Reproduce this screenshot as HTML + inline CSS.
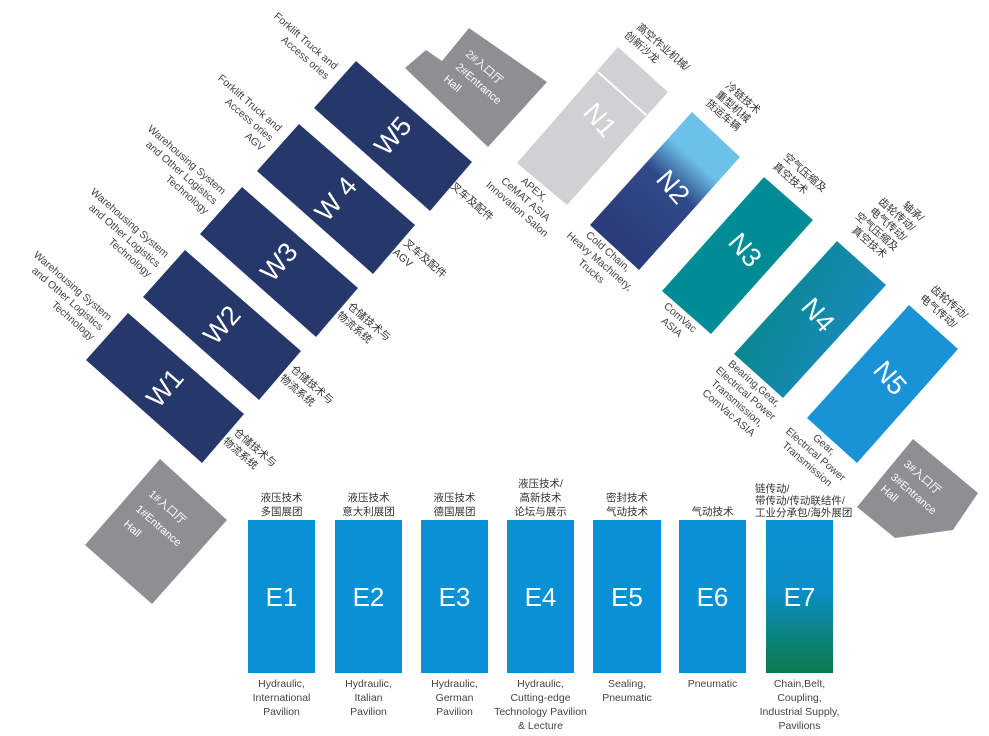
<!DOCTYPE html>
<html><head><meta charset="utf-8"><style>
html,body{margin:0;padding:0;background:#fff;}
svg{display:block;font-family:"Liberation Sans","Noto Sans CJK SC",sans-serif;}
.lb{font-size:10.5px;fill:#444;}
.cn{font-size:10.5px;fill:#333;}
.w{fill:#fff;font-size:27px;}
.g{fill:#fff;font-size:11px;}
</style></head><body>
<svg width="989" height="736" viewBox="0 0 989 736" xmlns="http://www.w3.org/2000/svg">
<defs>
<linearGradient id="n2" gradientUnits="userSpaceOnUse" x1="716" y1="134" x2="614" y2="248">
<stop offset="0" stop-color="#6cc1e8"/><stop offset="0.22" stop-color="#6cc1e8"/><stop offset="0.45" stop-color="#2f4a8a"/><stop offset="1" stop-color="#2a3b78"/></linearGradient>
<linearGradient id="n4" gradientUnits="userSpaceOnUse" x1="760" y1="300" x2="880" y2="360">
<stop offset="0" stop-color="#0b878f"/><stop offset="1" stop-color="#1a8cc8"/></linearGradient>
<linearGradient id="e7" x1="0" y1="0" x2="0" y2="1">
<stop offset="0" stop-color="#0a90d4"/><stop offset="0.45" stop-color="#0a8fc8"/><stop offset="1" stop-color="#0c7a4a"/></linearGradient>
</defs>

<!-- Entrances -->
<polygon points="160,459 227,520 152,604 85,545" fill="#8e8f93"/>
<polygon points="405,68 426,50 442,61 469,28 547,82 488,147" fill="#8e8f93"/>
<polygon points="913,439 978,493 953,530 895,538 857,507" fill="#8e8f93"/>
<g class="g">
<text transform="translate(148,495) rotate(41)">1#入口厅</text>
<text transform="translate(135,510) rotate(41)">1#Entrance</text>
<text transform="translate(123,525) rotate(41)">Hall</text>
<text transform="translate(465,55) rotate(41)">2#入口厅</text>
<text transform="translate(455,68) rotate(41)">2#Entrance</text>
<text transform="translate(443,80) rotate(41)">Hall</text>
<text transform="translate(903,465) rotate(41)">3#入口厅</text>
<text transform="translate(890,478) rotate(41)">3#Entrance</text>
<text transform="translate(880,490) rotate(41)">Hall</text>
</g>

<!-- W blocks -->
<g fill="#26386a">
<polygon points="128,313 244,414 202,463 86,360"/>
<polygon points="185,250 301,351 259,400 143,297"/>
<polygon points="242,187 358,288 316,337 200,234"/>
<polygon points="299,124 415,225 373,274 257,171"/>
<polygon points="356,61 472,162 430,211 314,108"/>
</g>
<g class="w" text-anchor="middle">
<text transform="translate(165,388) rotate(-49)" dy="9">W1</text>
<text transform="translate(222,325) rotate(-49)" dy="9">W2</text>
<text transform="translate(279,262) rotate(-49)" dy="9">W3</text>
<text transform="translate(336,199) rotate(-49)" dy="9">W 4</text>
<text transform="translate(393,136) rotate(-49)" dy="9">W5</text>
</g>

<!-- W upper-left labels -->
<g class="lb" text-anchor="end">
<g transform="translate(108,321) rotate(41)"><text>Warehousing System</text><text y="13">and Other Logistics</text><text y="26">Technology</text></g>
<g transform="translate(165,258) rotate(41)"><text>Warehousing System</text><text y="13">and Other Logistics</text><text y="26">Technology</text></g>
<g transform="translate(222,195) rotate(41)"><text>Warehousing System</text><text y="13">and Other Logistics</text><text y="26">Technology</text></g>
<g transform="translate(278,132) rotate(41)"><text>Forklift Truck and</text><text y="13">Access ories</text><text y="26">AGV</text></g>
<g transform="translate(334,70) rotate(41)"><text>Forklift Truck and</text><text y="13">Access ories</text></g>
</g>
<!-- W lower-right labels -->
<g class="cn">
<g transform="translate(233,433) rotate(41)"><text>仓储技术与</text><text x="-2" y="14">物流系统</text></g>
<g transform="translate(290,370) rotate(41)"><text>仓储技术与</text><text x="-2" y="14">物流系统</text></g>
<g transform="translate(347,307) rotate(41)"><text>仓储技术与</text><text x="-2" y="14">物流系统</text></g>
<g transform="translate(403,244) rotate(41)"><text>叉车及配件</text><text x="-2" y="14">AGV</text></g>
<g transform="translate(450,187) rotate(41)"><text>叉车及配件</text></g>
</g>

<!-- N blocks -->
<polygon points="618,47 668,92 567,205 517,163" fill="#d0d1d3"/>
<line x1="598" y1="72" x2="646" y2="115" stroke="#fff" stroke-width="2"/>
<polygon points="692,112 740,157 639,270 590,225" fill="url(#n2)"/>
<polygon points="764,177 813,220 711,334 662,291" fill="#008c95"/>
<polygon points="837,241 886,285 783,398 734,354" fill="url(#n4)"/>
<polygon points="909,305 958,349 857,463 807,418" fill="#1a93d6"/>
<g class="w" text-anchor="middle">
<text transform="translate(600,120) rotate(49)" dy="9" fill="#fff">N1</text>
<text transform="translate(673,187) rotate(49)" dy="9">N2</text>
<text transform="translate(745,250) rotate(49)" dy="9">N3</text>
<text transform="translate(818,315) rotate(49)" dy="9">N4</text>
<text transform="translate(890,378) rotate(49)" dy="9">N5</text>
</g>

<!-- N upper labels -->
<g class="cn">
<g transform="translate(636,28) rotate(41)"><text>高空作业机械/</text><text x="-4" y="14">创新沙龙</text></g>
<g transform="translate(725,87) rotate(41)"><text>冷链技术</text><text x="-2" y="13">重型机械</text><text x="-4" y="26">货运车辆</text></g>
<g transform="translate(783,158) rotate(41)"><text>空气压缩及</text><text x="-2" y="14">真空技术</text></g>
<g transform="translate(920,222) rotate(41)" text-anchor="end"><text>轴承/</text><text y="13">齿轮传动/</text><text y="26">电气传动/</text><text y="39">空气压缩及</text><text x="-4" y="52">真空技术</text></g>
<g transform="translate(930,290) rotate(41)"><text>齿轮传动/</text><text x="-2" y="14">电气传动/</text></g>
</g>
<!-- N lower labels -->
<g class="lb" text-anchor="middle">
<g transform="translate(532,192) rotate(41)"><text>APEX,</text><text y="13">CeMAT ASIA</text><text y="26">Innovation Salon</text></g>
<g transform="translate(606,254) rotate(41)"><text>Cold Chain,</text><text y="13">Heavy Machinery,</text><text y="26">Trucks</text></g>
<g transform="translate(678,320) rotate(41)"><text>ComVac</text><text y="13">ASIA</text></g>
<g transform="translate(752,386) rotate(41)"><text>Bearing,Gear,</text><text y="13">Electrical Power</text><text y="26">Transmission,</text><text y="39">ComVac ASIA</text></g>
<g transform="translate(822,447) rotate(41)"><text>Gear,</text><text y="13">Electrical Power</text><text y="26">Transmission</text></g>
</g>

<!-- E blocks -->
<g fill="#0a90d4">
<rect x="248" y="520" width="67" height="153"/>
<rect x="335" y="520" width="67" height="153"/>
<rect x="421" y="520" width="67" height="153"/>
<rect x="507" y="520" width="67" height="153"/>
<rect x="593" y="520" width="68" height="153"/>
<rect x="679" y="520" width="67" height="153"/>
</g>
<rect x="766" y="520" width="67" height="153" fill="url(#e7)"/>
<g fill="#fff" font-size="26" text-anchor="middle">
<text x="281.5" y="606">E1</text><text x="368.5" y="606">E2</text><text x="454.5" y="606">E3</text>
<text x="540.5" y="606">E4</text><text x="627" y="606">E5</text><text x="712.5" y="606">E6</text><text x="799.5" y="606">E7</text>
</g>
<g class="cn" text-anchor="middle" font-size="11">
<text x="281.5" y="501">液压技术</text><text x="281.5" y="515">多国展团</text>
<text x="368.5" y="501">液压技术</text><text x="368.5" y="515">意大利展团</text>
<text x="454.5" y="501">液压技术</text><text x="454.5" y="515">德国展团</text>
<text x="540.5" y="487">液压技术/</text><text x="540.5" y="501">高新技术</text><text x="540.5" y="515">论坛与展示</text>
<text x="627" y="501">密封技术</text><text x="627" y="515">气动技术</text>
<text x="712.5" y="515">气动技术</text>
</g>
<g class="cn" font-size="9">
<text x="755" y="492">链传动/</text><text x="755" y="504">带传动/传动联结件/</text><text x="755" y="516">工业分承包/海外展团</text>
</g>
<g class="lb" text-anchor="middle" font-size="11">
<text x="281.5" y="687">Hydraulic,</text><text x="281.5" y="701">International</text><text x="281.5" y="715">Pavilion</text>
<text x="368.5" y="687">Hydraulic,</text><text x="368.5" y="701">Italian</text><text x="368.5" y="715">Pavilion</text>
<text x="454.5" y="687">Hydraulic,</text><text x="454.5" y="701">German</text><text x="454.5" y="715">Pavilion</text>
<text x="540.5" y="687">Hydraulic,</text><text x="540.5" y="701">Cutting-edge</text><text x="540.5" y="715">Technology Pavilion</text><text x="540.5" y="729">&amp; Lecture</text>
<text x="627" y="687">Sealing,</text><text x="627" y="701">Pneumatic</text>
<text x="712.5" y="687">Pneumatic</text>
<text x="799.5" y="687">Chain,Belt,</text><text x="799.5" y="701">Coupling,</text><text x="799.5" y="715">Industrial Supply,</text><text x="799.5" y="729">Pavilions</text>
</g>
</svg>
</body></html>
